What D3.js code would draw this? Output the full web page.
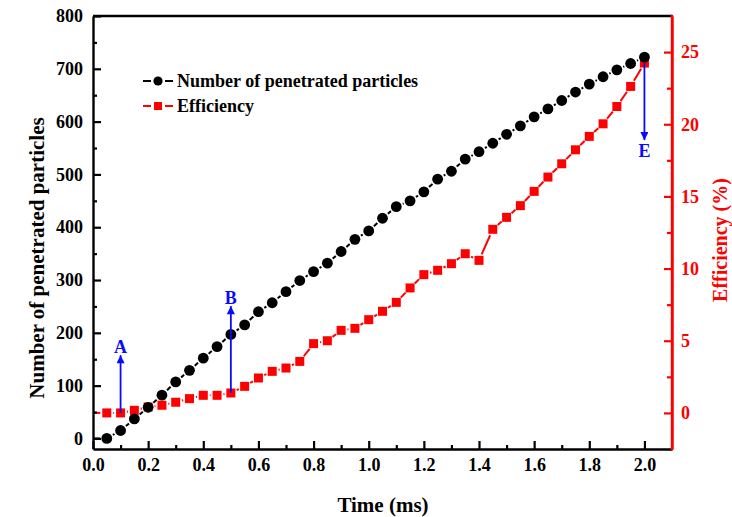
<!DOCTYPE html>
<html><head><meta charset="utf-8">
<script src="https://cdn.jsdelivr.net/npm/d3@7"></script>
<style>
html,body{margin:0;padding:0;background:#fff;}
svg{display:block;font-family:"Liberation Serif","Times New Roman",serif;font-weight:bold;}
</style></head>
<body><svg id="chart" width="732" height="517"></svg>
<script>
const times = [0,0.05,0.1,0.15,0.2,0.25,0.3,0.35,0.4,0.45,0.5,0.55,0.6,0.65,0.7,0.75,0.8,0.85,0.9,0.95,1.0,
  1.05,1.1,1.15,1.2,1.25,1.3,1.35,1.4,1.45,1.5,1.55,1.6,1.65,1.7,1.75,1.8,1.85,1.9,1.95,2.0];
const particles = [0,0,15,37,59,82,107,129,152,174,197,215,240,257,278,299,316,332,354,377,393,
  417,439,450,467,491,506,529,543,559,576,592,609,624,640,656,671,685,698,710,722];
const efficiency = [0,0,0,0.18,0.41,0.53,0.74,0.99,1.22,1.22,1.38,1.84,2.42,2.88,3.11,3.57,4.8,5.0,5.72,5.86,6.46,
  7.04,7.66,8.66,9.58,9.88,10.34,11.03,10.57,12.72,13.55,14.36,15.35,16.34,17.26,18.23,19.16,20.03,21.23,22.62,24.24];
const xTicks = [0,0.2,0.4,0.6,0.8,1.0,1.2,1.4,1.6,1.8,2.0];
const xMinor = [0.1,0.3,0.5,0.7,0.9,1.1,1.3,1.5,1.7,1.9];
const yLTicks = [0,100,200,300,400,500,600,700,800];
const yLMinor = [50,150,250,350,450,550,650,750];
const yRTicks = [0,5,10,15,20,25];
const yRMinor = [2.5,7.5,12.5,17.5,22.5];
const seriesNames = ["Number of penetrated particles","Efficiency"];
// annotations: time, efficiency start, efficiency end (arrow tip), label
const annoTime = [0.1, 0.5, 2.0];
const annoFrom = [0, 1.38, 24.24];
const annoTo = [4.0, 7.4, 18.9];
const annoLabel = ["A","B","E"];

const svg = d3.select("#chart");
const L=93, R=672, T=16, B=449;
const x = d3.scaleLinear([0,2.1],[L,R]);
const yL = d3.scaleLinear([-20,800],[B,T]);
const yR = d3.scaleLinear([-2.5,27.5],[B,T]);
const RED="#ff0000", BLUE="#0a0aff";

// series lines with gap to symbol
function gapLine(g, pts, color, gapStart){
  for(let i=0;i<pts.length-1;i++){
    const [x1,y1]=pts[i],[x2,y2]=pts[i+1];
    const dx=x2-x1, dy=y2-y1, len=Math.hypot(dx,dy);
    const g1 = (i===0)?0:gapStart, g2=gapStart;
    if(len<=g1+g2) continue;
    const ux=dx/len, uy=dy/len;
    g.append("line").attr("x1",x1+ux*g1).attr("y1",y1+uy*g1)
      .attr("x2",x2-ux*g2).attr("y2",y2-uy*g2)
      .attr("stroke",color).attr("stroke-width",2);
  }
}
const gRed = svg.append("g");
gapLine(gRed, times.map((t,i)=>[x(t),yR(efficiency[i])]), RED, 6.5);
gRed.selectAll("rect").data(times.map((t,i)=>({t,v:efficiency[i]})).filter(d=>d.t>0))
  .enter().append("rect").attr("x",d=>x(d.t)-4.5).attr("y",d=>yR(d.v)-4.5)
  .attr("width",9).attr("height",9).attr("fill",RED);

const gBlack = svg.append("g");
gapLine(gBlack, times.map((t,i)=>[x(t),yL(particles[i])]), "#000", 7);
gBlack.selectAll("circle").data(times.map((t,i)=>({t,v:particles[i]})).filter(d=>d.t>0))
  .enter().append("circle").attr("cx",d=>x(d.t)).attr("cy",d=>yL(d.v)).attr("r",5.4).attr("fill","#000");

// frame
svg.append("line").attr("x1",L).attr("x2",R).attr("y1",T).attr("y2",T).attr("stroke","#000").attr("stroke-width",2.4);

// axes
function styleAxis(g,color){
  g.selectAll("path").attr("stroke",color).attr("stroke-width",2.4);
  g.selectAll("line").attr("stroke",color).attr("stroke-width",2.2);
  g.selectAll("text").attr("fill",color).style("font-size","18px").style("font-family","Liberation Serif").style("font-weight","bold");
}
const bx = svg.append("g").attr("transform",`translate(0,${B})`)
  .call(d3.axisBottom(x).tickValues(xTicks).tickFormat(d3.format(".1f")).tickSizeInner(-8).tickSizeOuter(0).tickPadding(9));
styleAxis(bx,"#000");
const bxm = svg.append("g").attr("transform",`translate(0,${B})`)
  .call(d3.axisBottom(x).tickValues(xMinor).tickFormat("").tickSizeInner(-4).tickSizeOuter(0));
styleAxis(bxm,"#000"); bxm.select("path").remove();

const ly = svg.append("g").attr("transform",`translate(${L},0)`)
  .call(d3.axisLeft(yL).tickValues(yLTicks).tickSizeInner(-8).tickSizeOuter(0).tickPadding(10));
styleAxis(ly,"#000");
const lym = svg.append("g").attr("transform",`translate(${L},0)`)
  .call(d3.axisLeft(yL).tickValues(yLMinor).tickFormat("").tickSizeInner(-4).tickSizeOuter(0));
styleAxis(lym,"#000"); lym.select("path").remove();

const ry = svg.append("g").attr("transform",`translate(${R},0)`)
  .call(d3.axisRight(yR).tickValues(yRTicks).tickSizeInner(-8).tickSizeOuter(0).tickPadding(9));
styleAxis(ry,RED);
const rym = svg.append("g").attr("transform",`translate(${R},0)`)
  .call(d3.axisRight(yR).tickValues(yRMinor).tickFormat("").tickSizeInner(-5).tickSizeOuter(0));
styleAxis(rym,RED); rym.select("path").remove();
svg.append("line").attr("x1",R).attr("x2",R).attr("y1",T-1.2).attr("y2",B+1.2).attr("stroke",RED).attr("stroke-width",2.4);

// axis titles
svg.append("text").attr("x",383).attr("y",512).attr("text-anchor","middle").style("font-size","21px").text("Time (ms)");
svg.append("text").attr("transform","translate(44,258) rotate(-90)").attr("text-anchor","middle").style("font-size","21px").text("Number of penetrated particles");
svg.append("text").attr("transform","translate(727,240) rotate(-90)").attr("text-anchor","middle").attr("fill",RED).style("font-size","20px").text("Efficiency (%)");

// legend
const lg = svg.append("g");
const legY=[81,106];
[0,1].forEach(i=>{
  const c = i===0?"#000":RED;
  lg.append("line").attr("x1",143).attr("x2",151).attr("y1",legY[i]).attr("y2",legY[i]).attr("stroke",c).attr("stroke-width",2);
  lg.append("line").attr("x1",165).attr("x2",173).attr("y1",legY[i]).attr("y2",legY[i]).attr("stroke",c).attr("stroke-width",2);
  if(i===0) lg.append("circle").attr("cx",158).attr("cy",legY[i]).attr("r",4.6).attr("fill",c);
  else lg.append("rect").attr("x",154).attr("y",legY[i]-4).attr("width",8).attr("height",8).attr("fill",c);
  lg.append("text").attr("x",177).attr("y",legY[i]+6).style("font-size","18px").attr("fill","#000").text(seriesNames[i]);
});

// annotations
const defs = svg.append("defs");
defs.append("marker").attr("id","ah").attr("viewBox","0 0 10 10").attr("refX",10).attr("refY",5)
  .attr("markerWidth",5.5).attr("markerHeight",4.5).attr("markerUnits","strokeWidth").attr("orient","auto")
  .append("path").attr("d","M0,0 L10,5 L0,10 Z").attr("fill",BLUE);
annoTime.forEach((t,i)=>{
  const y1=yR(annoFrom[i]), y2=yR(annoTo[i]);
  svg.append("line").attr("x1",x(t)).attr("x2",x(t)).attr("y1",y1).attr("y2",y2)
    .attr("stroke",BLUE).attr("stroke-width",1.8).attr("marker-end","url(#ah)");
  const up = y2<y1;
  svg.append("text").attr("x",x(t)).attr("y",up? y2-2 : y2+17).attr("text-anchor","middle")
    .attr("fill",BLUE).style("font-size","18px").text(annoLabel[i]);
});
</script></body></html>
